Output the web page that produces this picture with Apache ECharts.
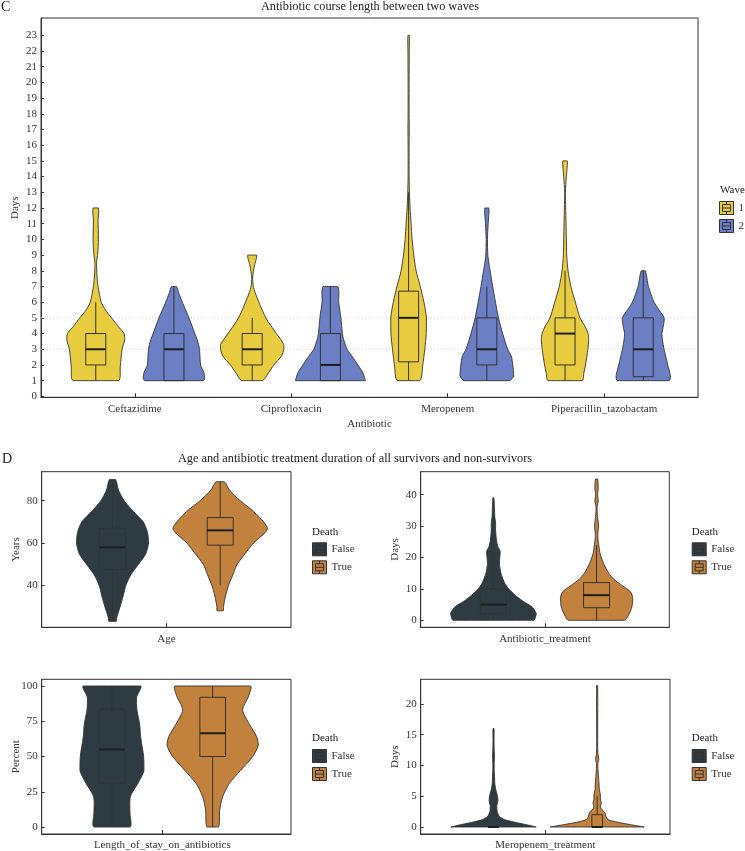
<!DOCTYPE html>
<html>
<head>
<meta charset="utf-8">
<script src="https://cdn.jsdelivr.net/npm/echarts@6/dist/echarts.min.js"></script>
<style>html,body{margin:0;padding:0;background:#fff}#c{width:745px;height:851px}</style>
</head>
<body>
<div id="c"></div>
<script>
// ---------------- Panel C data ----------------
const antibiotics = ['Ceftazidime', 'Ciprofloxacin', 'Meropenem', 'Piperacillin_tazobactam'];
const waveNames = ['1', '2'];
const dayTicks = [0,1,2,3,4,5,6,7,8,9,10,11,12,13,14,15,16,17,18,19,20,21,22,23];
const waveGuideDays = [3, 5];
// violin profiles: [days, relative half-width]
const wave1Violins = [
  [[1,68],[1.9,73.5],[3,79],[3.6,87],[4,85],[4.45,67.5],[5,47.5],[5.5,29],[6,16.5],[7,7],[7.6,4],[8.5,2.5],[9.1,6],[10,8],[11.2,7],[12,8]],
  [[1,31],[1.5,49],[2,65],[2.55,87.5],[3,95],[3.3,95],[4,72.5],[5,41],[6,20],[6.6,9],[7,3.5],[7.6,1.5],[8.3,6.5],[9,13]],
  [[1,33.5],[2,42.5],[3,48.5],[4,53],[5,53.5],[6,46],[7,35],[8,22.5],[9,15.5],[10,10.5],[11,7.5],[12,4.5],[13,2.5],[14,1.5],[16,1.5],[17,2],[18,1.5],[20,1.5],[22,2],[23,2]],
  [[1,51],[1.5,56.5],[2,61.5],[3,68.5],[3.6,71],[4,69],[4.45,60],[5,45],[6,31],[7,17.5],[8,9],[9,5],[10,4],[11,3],[12,2],[13,1],[14,4],[14.5,6],[15,6.5]]
];
const wave2Violins = [
  [[1,88],[1.15,92],[1.5,90],[2,80],[3,76.5],[3.6,70],[4,62.5],[5,45],[6,25],[6.6,14],[7,7.5]],
  [[1,105],[1.5,97.5],[2,82.5],[2.55,65],[3,50],[3.6,40],[4,36],[5,31.5],[6,25],[7,22]],
  [[1,67.5],[1.3,80.5],[2,78],[2.55,73.5],[3,62.5],[4,47.5],[5,35],[6,26],[7,17.5],[8,10],[8.5,6],[9,3],[10,2],[11,4],[12,6]],
  [[1,77.5],[1.3,81.5],[2,73.5],[2.55,67.5],[3,62.5],[3.6,57.5],[4,56],[4.45,60],[5,62.5],[5.5,47.5],[6,32.5],[7,15.5],[8,6]]
];
// box: [whisker low, Q1, median, Q3, whisker high]
const wave1Boxes = [[1,2,3,4,6],[1,2,3,4,5],[1,2.2,5,6.7,13],[1,2,4,5,8]];
const wave2Boxes = [[1,1,3,4,7],[1,1,2,4,7],[1,2,3,5,7],[1,1.25,3,5,8]];

// ---------------- Panel D data ----------------
const deathNames = ['False', 'True'];
const panelNames = ['Age', 'Antibiotic_treatment', 'Length_of_stay_on_antibiotics', 'Meropenem_treatment'];
const panelUnits = ['Years', 'Days', 'Percent', 'Days'];
const ageTicks = [40, 60, 80];
const abxTicks = [0, 10, 20, 30, 40];
const losTicks = [0, 25, 50, 75, 100];
const meroTicks = [0, 5, 10, 15, 20];

const ageFalse = [[23,11],[25,13],[30,23],[35,32],[40,40],[45,55],[50,78],[55,100],[60,108],[65,105],[70,92],[75,62],[80,35],[85,18],[90,9]];
const ageTrue = [[28,9],[30,10],[35,16],[40,25],[45,38],[50,51],[55,75],[60,100],[65,135],[67,142],[70,130],[75,100],[80,60],[85,28],[89,12]];
const abxFalse = [[0,121],[1,126],[2.2,128.5],[4.3,115],[6,90],[7.5,71],[9.7,48.5],[11.8,34],[15,22.5],[18,18],[22,20],[23.4,13.5],[25.6,9],[28.8,6.5],[31,6.5],[33,4],[39,1.5]];
const abxTrue = [[0,83.5],[2.2,98.5],[4.3,106],[7,108.5],[9,102.5],[11,77.5],[13,52.5],[15,36.5],[18,21.5],[21,11],[24,6.5],[27,3.5],[30,6],[33,3],[36,1.5],[38,5],[40,3],[42,5],[45,3]];
const losFalse = [[0,54],[10,54],[21.5,55],[31,78],[40,96],[50,95],[64,86],[73,83],[83,75],[92,74],[100,86]];
const losTrue = [[0,17],[12,21],[21.5,30],[31,50],[40,83],[50,120],[58,137],[64,132],[73,110],[83,90],[93,108],[100,113]];
const meroFalse = [[0,128],[0.4,96],[0.8,61],[1.2,33],[1.7,18],[2.5,11],[3.5,10],[4.2,13],[5,12],[6,7],[7,4],[8.2,3],[9.3,2],[10.5,2],[11.5,3],[12.5,2],[14,1.5],[16,1.5]];
const meroTrue = [[0,141],[0.38,100],[0.76,62],[1.2,32.5],[1.7,26.5],[2.3,23.5],[2.8,14.5],[3.3,10],[3.9,12.5],[4.4,10],[5.2,9.5],[6.1,6.5],[7,5.5],[7.7,4.5],[8.5,3.5],[9.3,2.5],[10.3,2],[11,5],[11.7,2.5],[13,1.5],[23,1.5]];

const falseViolins = [ageFalse, abxFalse, losFalse, meroFalse];
const trueViolins = [ageTrue, abxTrue, losTrue, meroTrue];
const falseBoxes = [[23,47.5,58,67,90],[0,2,5,10,22],[0,31,55,83.5,100],[0,0,0,0,0]];
const trueBoxes = [[40,59,66,72,89],[0,4,8,12,24],[0,50,66.5,92,100],[0,0,0,2,5]];

// ---------------- styling / layout ----------------
const FONT = "'Liberation Serif','DejaVu Serif','Times New Roman',serif";
const TXT = '#333';
const LINE = '#333';
const C_W1 = '#E8CC3F', C_W2 = '#6C7EC4', C_F = '#2E3B43', C_T = '#C3813E';
const WIDTH_PX = 1 / 3;   // relative half-width -> pixels
const LEGEND_ICON = 'path://M0,0H14V13H0Z M3,3H11V10H3Z M3,6.5H11 M7,0V3 M7,10V13';

function violinRender(profiles, boxes, boxHalf, color) {
  return function (params, api) {
    const i = params.dataIndex;
    const xc = api.value(0);
    const prof = profiles[i];
    const right = [], left = [];
    prof.forEach(function (d) {
      const p = api.coord([xc, d[0]]);
      right.push([p[0] + d[1] * WIDTH_PX, p[1]]);
      left.push([p[0] - d[1] * WIDTH_PX, p[1]]);
    });
    const pts = right.concat(left.reverse());
    let minX = Infinity, minY = Infinity, maxX = -Infinity, maxY = -Infinity;
    pts.forEach(function (q) {
      minX = Math.min(minX, q[0]); maxX = Math.max(maxX, q[0]);
      minY = Math.min(minY, q[1]); maxY = Math.max(maxY, q[1]);
    });
    const b = boxes[i];
    const yy = b.map(function (v) { return api.coord([xc, v])[1]; });
    const cx = api.coord([xc, b[2]])[0];
    return {
      type: 'group',
      children: [
        { type: 'polygon', shape: { points: pts, smooth: 0.25, smoothConstraint: [[minX, minY], [maxX, maxY]] }, style: { fill: color, stroke: LINE, lineWidth: 0.9 } },
        { type: 'line', shape: { x1: cx, y1: yy[0], x2: cx, y2: yy[1] }, style: { stroke: LINE, lineWidth: 1 } },
        { type: 'line', shape: { x1: cx, y1: yy[3], x2: cx, y2: yy[4] }, style: { stroke: LINE, lineWidth: 1 } },
        { type: 'rect', shape: { x: cx - boxHalf, y: yy[3], width: 2 * boxHalf, height: yy[1] - yy[3] }, style: { fill: 'none', stroke: LINE, lineWidth: 1 } },
        { type: 'line', shape: { x1: cx - boxHalf, y1: yy[2], x2: cx + boxHalf, y2: yy[2] }, style: { stroke: '#1e1e1e', lineWidth: 2 } }
      ]
    };
  };
}

function guideRender(params, api) {
  const p = api.coord([api.value(0), api.value(1)]);
  const cs = params.coordSys;
  return { type: 'line', shape: { x1: cs.x, y1: p[1], x2: cs.x + cs.width, y2: p[1] },
    style: { stroke: '#d4d4d4', lineWidth: 1, lineDash: [1, 2] } };
}

const grids = [
  { left: 41, top: 18, width: 657, height: 379.3 },
  { left: 41.7, top: 471.7, width: 249.3, height: 155.6 },
  { left: 420.7, top: 471.7, width: 248.6, height: 155.6 },
  { left: 41.7, top: 679.3, width: 249.3, height: 154.7 },
  { left: 420.7, top: 679.3, width: 249.3, height: 154.7 }
].map(function (g) { return Object.assign({ show: true, borderColor: LINE, borderWidth: 1, backgroundColor: 'transparent', containLabel: false }, g); });

function axisBase(gridIndex) {
  return {
    type: 'value', gridIndex: gridIndex,
    axisLine: { show: true, onZero: false, lineStyle: { color: LINE, width: 1 } },
    splitLine: { show: false },
    nameMoveOverlap: false,
    nameTextStyle: { fontFamily: FONT, fontSize: 11, color: TXT }
  };
}
function yAxisCfg(gridIndex, min, max, ticks, name) {
  return Object.assign(axisBase(gridIndex), {
    min: min, max: max, name: name, nameLocation: 'middle', nameGap: 20, nameRotate: 90,
    axisTick: { show: true, inside: true, length: 3, customValues: ticks, lineStyle: { color: LINE } },
    axisLabel: { customValues: ticks, fontFamily: FONT, fontSize: 11, color: TXT, margin: 4 }
  });
}
function xAxisCfg(gridIndex, min, max, ticks, fmt, name) {
  return Object.assign(axisBase(gridIndex), {
    min: min, max: max, name: name || '', nameLocation: 'middle', nameGap: 21,
    axisTick: { show: true, inside: true, length: 4, customValues: ticks, lineStyle: { color: LINE } },
    axisLabel: { customValues: ticks, formatter: fmt, fontFamily: FONT, fontSize: 11, color: TXT, margin: 6 }
  });
}

const xAxes = [
  xAxisCfg(0, 0.4, 4.6, [1, 2, 3, 4], function (v) { return antibiotics[Math.round(v) - 1]; }, 'Antibiotic'),
  xAxisCfg(1, -0.463, 0.463, [0], function () { return panelNames[0]; }),
  xAxisCfg(2, -0.482, 0.482, [0], function () { return panelNames[1]; }),
  xAxisCfg(3, -0.479, 0.511, [0], function () { return panelNames[2]; }),
  xAxisCfg(4, -0.481, 0.481, [0], function () { return panelNames[3]; })
];
const yAxes = [
  yAxisCfg(0, -0.06, 24.1, dayTicks, 'Days'),
  yAxisCfg(1, 20.2, 93.7, ageTicks, panelUnits[0]),
  yAxisCfg(2, -2.23, 47.3, abxTicks, panelUnits[1]),
  yAxisCfg(3, -4.96, 104.75, losTicks, panelUnits[2]),
  yAxisCfg(4, -1.14, 24.0, meroTicks, panelUnits[3])
];

const DODGE_C = 0.25, DODGE_D = 0.2;
const series = [
  {
    type: 'custom', xAxisIndex: 0, yAxisIndex: 0, silent: true, z: 1,
    renderItem: guideRender, encode: { x: 0, y: 1 },
    data: waveGuideDays.map(function (d) { return [1, d]; })
  },
  {
    type: 'custom', name: waveNames[0], xAxisIndex: 0, yAxisIndex: 0, z: 3,
    itemStyle: { color: C_W1 },
    renderItem: violinRender(wave1Violins, wave1Boxes, 10, C_W1),
    encode: { x: 0, y: 1 },
    data: antibiotics.map(function (_, k) { return [k + 1 - DODGE_C, wave1Boxes[k][2]]; })
  },
  {
    type: 'custom', name: waveNames[1], xAxisIndex: 0, yAxisIndex: 0, z: 3,
    itemStyle: { color: C_W2 },
    renderItem: violinRender(wave2Violins, wave2Boxes, 10, C_W2),
    encode: { x: 0, y: 1 },
    data: antibiotics.map(function (_, k) { return [k + 1 + DODGE_C, wave2Boxes[k][2]]; })
  }
];
const boxHalfD = [13, 13, 12.8, 5.3];
for (let p = 0; p < 4; p++) {
  series.push({
    type: 'custom', name: deathNames[0], xAxisIndex: p + 1, yAxisIndex: p + 1, z: 3,
    itemStyle: { color: C_F },
    renderItem: violinRender([falseViolins[p]], [falseBoxes[p]], boxHalfD[p], C_F),
    encode: { x: 0, y: 1 },
    data: [[-DODGE_D, falseBoxes[p][2]]]
  });
  series.push({
    type: 'custom', name: deathNames[1], xAxisIndex: p + 1, yAxisIndex: p + 1, z: 3,
    itemStyle: { color: C_T },
    renderItem: violinRender([trueViolins[p]], [trueBoxes[p]], boxHalfD[p], C_T),
    encode: { x: 0, y: 1 },
    data: [[DODGE_D, trueBoxes[p][2]]]
  });
}

function legendCfg(names, left, top) {
  return {
    data: names, left: left, top: top, orient: 'vertical', padding: 0,
    itemWidth: 14, itemHeight: 13, itemGap: 4, icon: LEGEND_ICON, selectedMode: false,
    itemStyle: { borderColor: LINE, borderWidth: 1 },
    textStyle: { fontFamily: FONT, fontSize: 11, color: TXT }
  };
}
const legends = [
  legendCfg(waveNames, 719, 201),
  legendCfg(deathNames, 312, 542.3),
  legendCfg(deathNames, 691.7, 542.3),
  legendCfg(deathNames, 312, 749),
  legendCfg(deathNames, 691.7, 749)
];

function txt(s, x, y, size, align) {
  return { type: 'text', x: x, y: y, silent: true,
    style: { text: s, fontFamily: FONT, fontSize: size, fill: '#222', textAlign: align || 'left', textVerticalAlign: 'middle' } };
}
const graphics = [
  txt('C', 1, 7, 14),
  txt('Antibiotic course length between two waves', 370, 7, 12.3, 'center'),
  txt('D', 2, 459, 14),
  txt('Age and antibiotic treatment duration of all survivors and non-survivors', 355, 459, 12.3, 'center'),
  txt('Wave', 720, 190, 11),
  txt('Death', 312, 531.7, 11),
  txt('Death', 691.7, 531.7, 11),
  txt('Death', 312, 738.3, 11),
  txt('Death', 691.7, 738.3, 11)
];

const chart = echarts.init(document.getElementById('c'), null, { renderer: 'canvas' });
chart.setOption({
  animation: false,
  backgroundColor: '#fff',
  textStyle: { fontFamily: FONT },
  grid: grids,
  xAxis: xAxes,
  yAxis: yAxes,
  legend: legends,
  graphic: graphics,
  series: series
});
</script>
</body>
</html>
